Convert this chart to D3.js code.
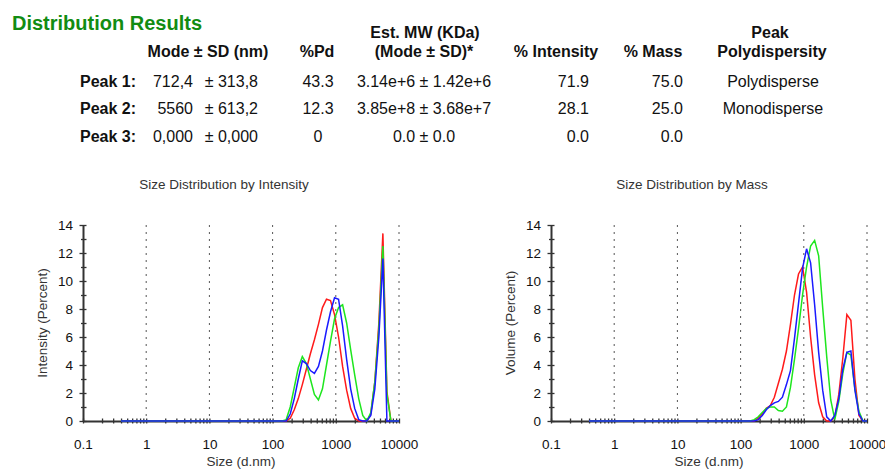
<!DOCTYPE html>
<html>
<head>
<meta charset="utf-8">
<script src="https://cdn.jsdelivr.net/npm/d3@7"></script>
<style>
  body { margin: 0; background: #fff; }
  svg { font-family: "Liberation Sans", Arial, sans-serif; display: block; }
  .axis path.domain { stroke: #333; stroke-width: 2; }
  .axis line { stroke: #333; stroke-width: 1.3; }
  .axis text { font-size: 13.5px; fill: #111; font-family: "Liberation Sans", Arial, sans-serif; }
  .grid line { stroke: #555; stroke-width: 1; stroke-dasharray: 2,5; }
  .tbl text { font-size: 16px; fill: #111; }
  .tbl .hd { font-weight: bold; }
</style>
</head>
<body>
<script>
// size bins (d.nm) - first point is the left end of the baseline
const sizes = [0.4, 141.8, 164.2, 190.1, 220.2, 255.0, 295.3, 342.0, 396.1, 458.7, 531.2, 615.1,
  712.4, 825.0, 955.4, 1106, 1281, 1484, 1718, 1990, 2305, 2669, 3091, 3580, 4145, 4801,
  5560, 6439, 7456, 8635, 10000];

// intensity distribution (percent), three runs
const intensityRed = [0, 0, 0, 0.2, 0.8, 1.6, 2.6, 3.7, 4.8, 5.8, 6.9, 8.1,
  8.7, 8.6, 7.6, 6.0, 3.9, 2.2, 0.9, 0.2, 0, 0, 0, 0.5, 2.8, 7.0,
  13.4, 2.1, 0, 0, 0];
const intensityGreen = [0, 0, 0.1, 1.0, 2.4, 3.8, 4.6, 4.1, 3.0, 1.9, 1.5, 2.3,
  4.0, 5.7, 7.3, 8.1, 8.3, 7.0, 5.1, 3.3, 1.6, 0.4, 0, 0.6, 2.8, 6.6,
  12.5, 1.9, 0, 0, 0];
const intensityBlue = [0, 0, 0, 0.5, 1.6, 3.0, 4.3, 4.1, 3.6, 3.4, 3.9, 5.0,
  6.5, 7.8, 8.8, 8.7, 6.8, 4.4, 2.3, 0.9, 0.1, 0, 0, 0.4, 2.3, 6.0,
  11.6, 0, 0, 0, 0];

// mass distribution (percent)
const massRed = [0, 0, 0, 0.2, 0.5, 0.9, 1.1, 1.7, 2.7, 3.7, 5.0, 6.9,
  9.0, 10.5, 11.0, 9.2, 6.0, 3.3, 1.3, 0.3, 0, 0, 0.3, 1.9, 4.5, 7.6,
  7.2, 3.0, 0.4, 0, 0];
const massGreen = [0, 0, 0.1, 0.3, 0.6, 0.9, 1.0, 1.0, 0.75, 0.7, 1.0, 2.4,
  4.4, 6.6, 9.0, 11.0, 12.5, 12.9, 11.8, 8.1, 4.6, 1.5, 0.1, 1.4, 3.4, 4.9,
  4.7, 2.3, 0.7, 0, 0];
const massBlue = [0, 0, 0, 0.1, 0.4, 0.8, 1.1, 1.3, 1.4, 1.7, 2.6, 3.6,
  5.9, 8.4, 10.9, 12.3, 11.3, 8.3, 4.9, 2.2, 0.3, 0, 0.4, 1.6, 3.7, 4.9,
  5.0, 2.2, 0.5, 0, 0];

// axis ticks
const xDecades = [0.1, 1, 10, 100, 1000, 10000];
const xTickLabels = ['0.1', '1', '10', '100', '1000', '10000'];
const yTicks = [0, 2, 4, 6, 8, 10, 12, 14];

// results table
const peakNames = ['Peak 1:', 'Peak 2:', 'Peak 3:'];
const modeValues = ['712,4', '5560', '0,000'];
const sdValues = ['313,8', '613,2', '0,000'];
const pdValues = ['43.3', '12.3', '0'];
const mwValues = ['3.14e+6 \u00b1 1.42e+6', '3.85e+8 \u00b1 3.68e+7', '0.0 \u00b1 0.0'];
const intensityPct = ['71.9', '28.1', '0.0'];
const massPct = ['75.0', '25.0', '0.0'];
const dispersity = ['Polydisperse', 'Monodisperse', ''];

const colors = ['#ff1a1a', '#1ee61e', '#1a1aff'];

const svg = d3.select('body').append('svg')
  .attr('width', 885)
  .attr('height', 470);

// ---- table ----
svg.append('text')
  .attr('x', 12).attr('y', 30)
  .attr('font-size', 20).attr('font-weight', 'bold')
  .attr('fill', '#128c12')
  .text('Distribution Results');

const tbl = svg.append('g').attr('class', 'tbl');
const header = [
  { t: 'Est. MW (KDa)', x: 425, y: 38 },
  { t: 'Peak', x: 770, y: 38 },
  { t: 'Mode \u00b1 SD (nm)', x: 208, y: 57 },
  { t: '%Pd', x: 317, y: 57 },
  { t: '(Mode \u00b1 SD)*', x: 424, y: 57 },
  { t: '% Intensity', x: 556, y: 57 },
  { t: '% Mass', x: 653, y: 57 },
  { t: 'Polydispersity', x: 772, y: 57 },
];
tbl.selectAll('text.hd').data(header).join('text')
  .attr('class', 'hd')
  .attr('x', (d) => d.x).attr('y', (d) => d.y)
  .attr('text-anchor', 'middle')
  .text((d) => d.t);

const rowY = d3.scalePoint().domain(peakNames).range([87, 141.5]);
const cols = [
  { vals: peakNames, x: 80, anchor: 'start', bold: true },
  { vals: modeValues, x: 193, anchor: 'end' },
  { vals: sdValues.map((s) => `\u00b1 ${s}`), x: 258, anchor: 'end' },
  { vals: pdValues, x: 318, anchor: 'middle' },
  { vals: mwValues, x: 424, anchor: 'middle' },
  { vals: intensityPct, x: 589, anchor: 'end' },
  { vals: massPct, x: 683, anchor: 'end' },
  { vals: dispersity, x: 773, anchor: 'middle' },
];
cols.forEach((c) => {
  tbl.append('g').selectAll('text').data(c.vals).join('text')
    .attr('class', c.bold ? 'hd' : null)
    .attr('x', c.x)
    .attr('y', (d, i) => rowY(peakNames[i]))
    .attr('text-anchor', c.anchor)
    .text((d) => d);
});

// ---- charts ----
const drawChart = (left, title, yLabel, series) => {
  const x = d3.scaleLog().domain([0.1, 10000]).range([left, left + 316]);
  const y = d3.scaleLinear().domain([0, 14]).range([421, 225]);
  const g = svg.append('g');
  const mid = (x.range()[0] + x.range()[1]) / 2;

  g.append('text')
    .attr('x', mid - 17).attr('y', 189)
    .attr('text-anchor', 'middle')
    .attr('font-size', 13.5).attr('fill', '#333')
    .text(title);

  // dotted grid at decades
  g.append('g').attr('class', 'grid')
    .selectAll('line').data(xDecades.slice(1)).join('line')
    .attr('x1', (d) => x(d)).attr('x2', (d) => x(d))
    .attr('y1', y(14)).attr('y2', y(0));

  // y axis, minor ticks every 1
  const gy = g.append('g').attr('class', 'axis')
    .attr('transform', `translate(${x(0.1)},0)`)
    .call(d3.axisLeft(y).tickValues(d3.range(0, 15))
      .tickFormat((d) => (yTicks.includes(d) ? d : ''))
      .tickSizeOuter(0).tickPadding(4));
  gy.selectAll('.tick line')
    .attr('x1', (d) => (yTicks.includes(d) ? -3.5 : -2))
    .attr('x2', 3.5);

  // x axis, log minor ticks
  const minor = [];
  xDecades.slice(0, -1).forEach((dec) => d3.range(1, 10).forEach((k) => minor.push(dec * k)));
  minor.push(10000);
  const gx = g.append('g').attr('class', 'axis')
    .attr('transform', `translate(0,${y(0)})`)
    .call(d3.axisBottom(x).tickValues(minor)
      .tickFormat((d) => {
        const i = xDecades.findIndex((v) => Math.abs(v - d) < 1e-9);
        return i >= 0 ? xTickLabels[i] : '';
      })
      .tickSizeOuter(0).tickPadding(12));
  gx.selectAll('.tick line').attr('y1', -2.5).attr('y2', 2.5);

  // axis titles
  g.append('text')
    .attr('x', mid).attr('y', 466)
    .attr('text-anchor', 'middle')
    .attr('font-size', 13.5).attr('fill', '#333')
    .text('Size (d.nm)');
  g.append('text')
    .attr('transform', `translate(${x(0.1) - 36},323) rotate(-90)`)
    .attr('text-anchor', 'middle')
    .attr('font-size', 13.5).attr('fill', '#333')
    .text(yLabel);

  // distribution lines
  const line = d3.line()
    .x((d, i) => x(sizes[i]))
    .y((d) => y(d));
  series.forEach((s, i) => {
    g.append('path')
      .attr('d', line(s))
      .attr('fill', 'none')
      .attr('stroke', colors[i])
      .attr('stroke-width', 1.5);
  });
};

drawChart(83, 'Size Distribution by Intensity', 'Intensity (Percent)',
  [intensityRed, intensityGreen, intensityBlue]);
drawChart(551, 'Size Distribution by Mass', 'Volume (Percent)',
  [massRed, massGreen, massBlue]);
</script>
</body>
</html>
